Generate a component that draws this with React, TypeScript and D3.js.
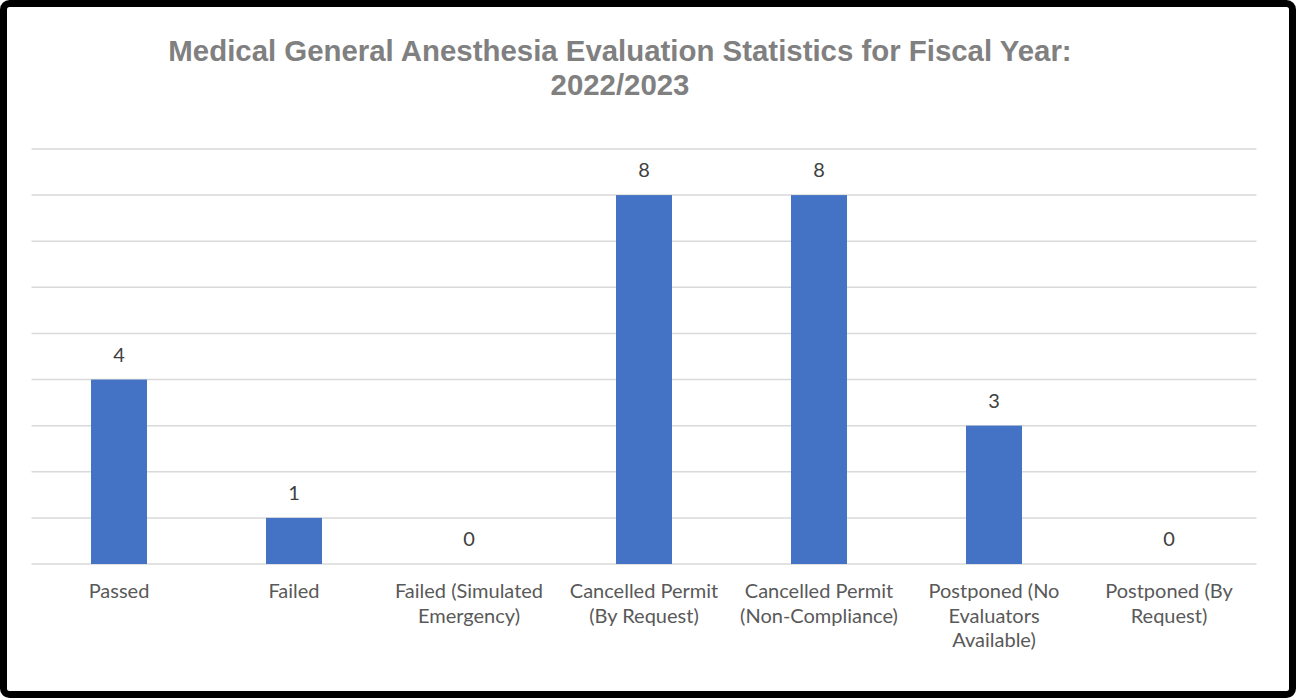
import React from "react";
import * as d3 from "d3";

const categories: string[] = [
  "Passed",
  "Failed",
  "Failed (Simulated Emergency)",
  "Cancelled Permit (By Request)",
  "Cancelled Permit (Non-Compliance)",
  "Postponed (No Evaluators Available)",
  "Postponed (By Request)",
];
const categoryLines: string[][] = [
  ["Passed"],
  ["Failed"],
  ["Failed (Simulated", "Emergency)"],
  ["Cancelled Permit", "(By Request)"],
  ["Cancelled Permit", "(Non-Compliance)"],
  ["Postponed (No", "Evaluators", "Available)"],
  ["Postponed (By", "Request)"],
];
const values: number[] = [4, 1, 0, 8, 8, 3, 0];
const gridTicks: number[] = [0, 1, 2, 3, 4, 5, 6, 7, 8, 9];
const titleLines: string[] = [
  "Medical General Anesthesia Evaluation Statistics for Fiscal Year:",
  "2022/2023",
];

const W = 1296;
const H = 698;
const LABEL_FONT = "Lato, 'Open Sans', sans-serif";

export default function App() {
  const x = d3.scaleBand<string>().domain(categories).range([31.5, 1256.5]).padding(0);
  const y = d3.scaleLinear().domain([0, 9]).range([564, 149]);
  const barW = x.bandwidth() * 0.32;

  return (
    <div style={{ position: "absolute", left: 0, top: 0 }}>
      <svg width={W} height={H} style={{ display: "block" }}>
        <rect x={0} y={0} width={W} height={H} fill="#ffffff" />
        <rect x={3.5} y={3.5} width={W - 7} height={H - 7} rx={6} fill="none" stroke="#000" strokeWidth={7} />
        {titleLines.map((t, i) => (
          <text
            key={i}
            x={620}
            y={61 + i * 34}
            textAnchor="middle"
            fill="#808080"
            fontFamily="'Liberation Sans', Arial, sans-serif"
            fontWeight="bold"
            fontSize={29.4}
          >
            {t}
          </text>
        ))}
        {gridTicks.map((t) => (
          <line key={t} x1={31.5} x2={1256.5} y1={y(t)} y2={y(t)} stroke="#d9d9d9" strokeWidth={1.5} />
        ))}
        {categories.map((c, i) => {
          const cx = (x(c) as number) + x.bandwidth() / 2;
          return (
            <g key={c}>
              {values[i] > 0 && (
                <rect x={cx - barW / 2} y={y(values[i])} width={barW} height={y(0) - y(values[i])} fill="#4472C4" />
              )}
              <text
                x={cx}
                y={y(values[i]) - 18}
                textAnchor="middle"
                fill="#404040"
                fontFamily={LABEL_FONT}
                fontSize={20}
              >
                {values[i]}
              </text>
              {categoryLines[i].map((l, j) => (
                <text
                  key={j}
                  x={cx}
                  y={598 + j * 24.5}
                  textAnchor="middle"
                  fill="#595959"
                  fontFamily={LABEL_FONT}
                  fontSize={20}
                >
                  {l}
                </text>
              ))}
            </g>
          );
        })}
      </svg>
    </div>
  );
}
